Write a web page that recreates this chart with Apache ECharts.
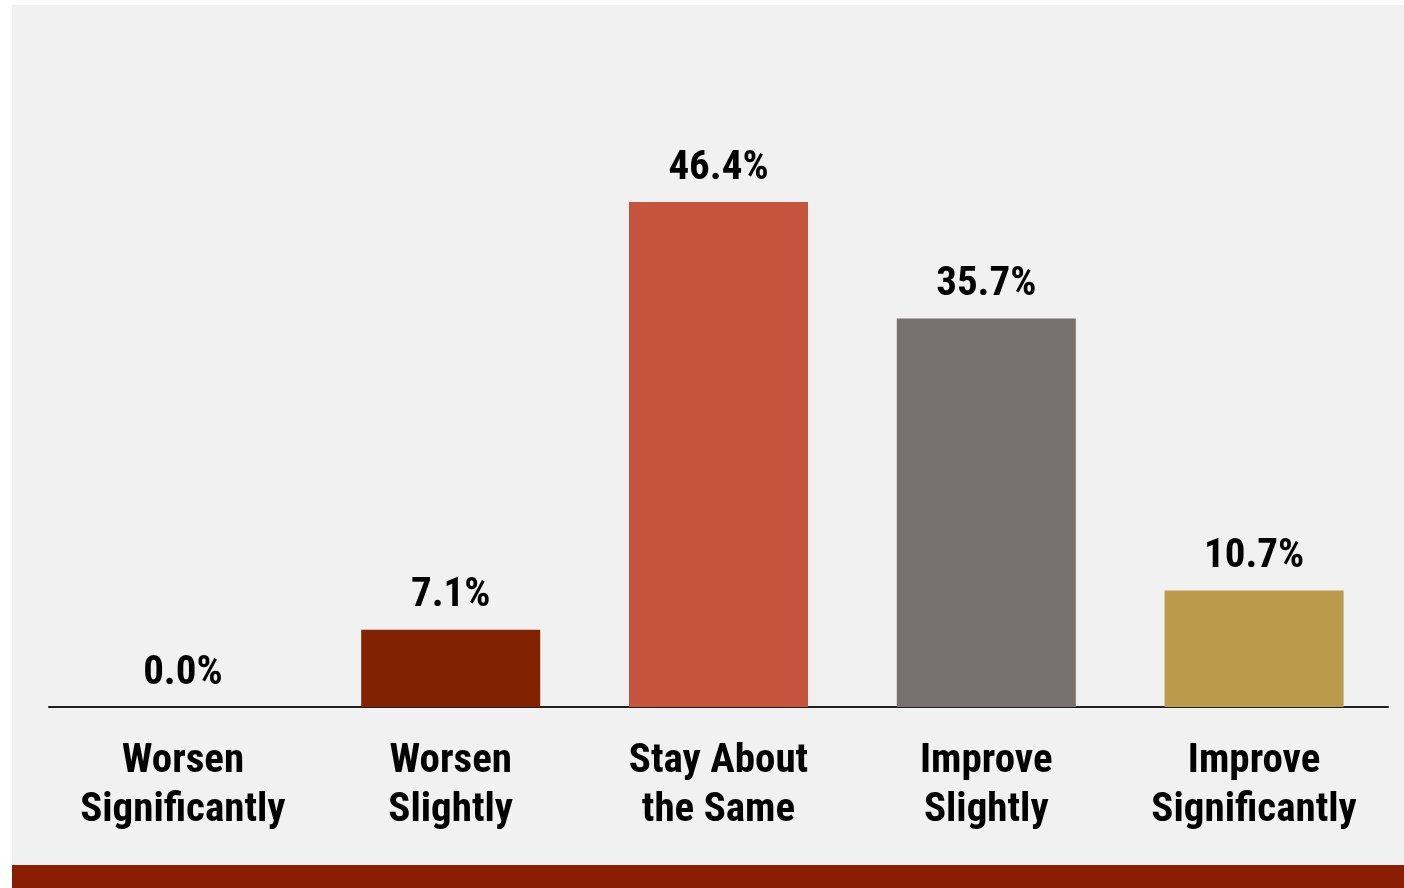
<!DOCTYPE html>
<html>
<head>
<meta charset="utf-8">
<script src="https://cdn.jsdelivr.net/npm/echarts@6/dist/echarts.min.js"></script>
<style>
  html, body { margin: 0; padding: 0; background: #ffffff; }
  #chart { width: 1404px; height: 888px; }
</style>
</head>
<body>
<div id="chart"></div>
<script>
const categories = ['Worsen\nSignificantly', 'Worsen\nSlightly', 'Stay About\nthe Same', 'Improve\nSlightly', 'Improve\nSignificantly']
const values = [0.0, 7.1, 46.4, 35.7, 10.7]
const barColors = ['#832200', '#832200', '#c5543c', '#76716f', '#bb9a4b']

const font = '"Roboto Condensed", "Liberation Sans Narrow", "DejaVu Sans Condensed", sans-serif'

const chart = echarts.init(document.getElementById('chart'))

const option = {
  backgroundColor: '#ffffff',
  animation: false,
  graphic: [
    { type: 'rect', z: -10, shape: { x: 12, y: 5, width: 1392, height: 860 }, style: { fill: '#f1f1f1' } },
    { type: 'rect', z: -10, shape: { x: 12, y: 865, width: 1392, height: 23 }, style: { fill: '#8a1e04' } }
  ],
  grid: {
    left: 49,
    right: 16,
    top: 54,
    bottom: 181
  },
  xAxis: {
    type: 'category',
    data: categories,
    axisLine: { lineStyle: { color: '#1f1f1f', width: 2 } },
    axisTick: { show: false },
    axisLabel: {
      color: '#000',
      fontFamily: font,
      fontWeight: 'bold',
      fontSize: 41,
      lineHeight: 49,
      margin: 30,
      interval: 0
    }
  },
  yAxis: {
    type: 'value',
    min: 0,
    max: 60,
    show: false,
    splitLine: { show: false }
  },
  series: [{
    type: 'bar',
    barWidth: 179,
    data: values.map((v, i) => ({ value: v, itemStyle: { color: barColors[i] } })),
    label: {
      show: true,
      position: 'top',
      distance: 13,
      color: '#000',
      fontFamily: font,
      fontWeight: 'bold',
      fontSize: 41,
      formatter: p => p.value.toFixed(1) + '%'
    }
  }]
}

chart.setOption(option)
</script>
</body>
</html>
